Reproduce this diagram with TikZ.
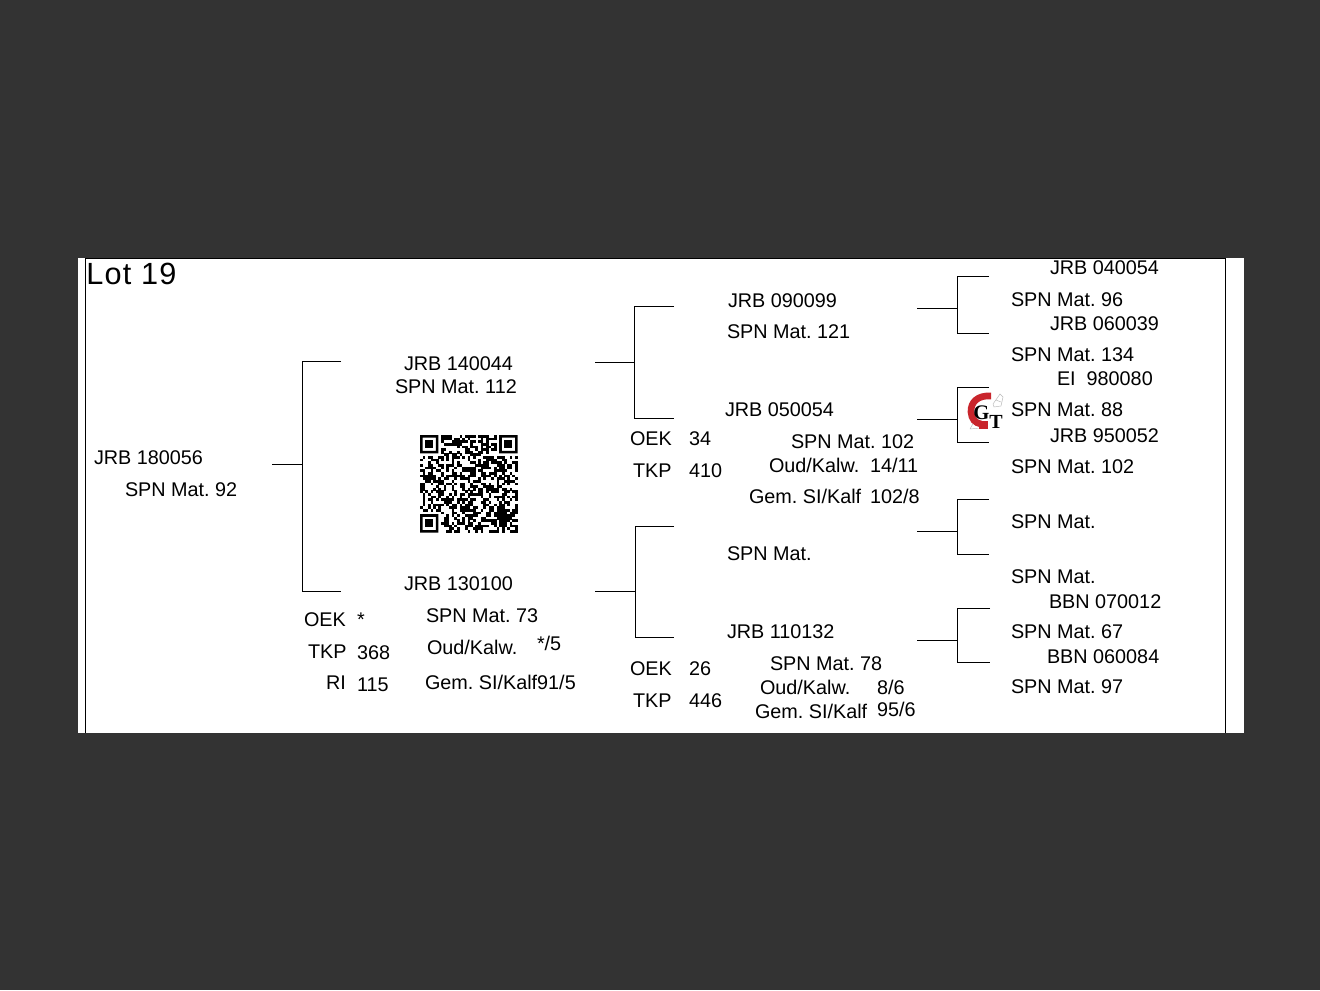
\documentclass[tikz,border=0pt]{standalone}
\usepackage{fontspec}
\setmainfont{Liberation Sans}
\newfontfamily\lotfont[LetterSpace=4]{Liberation Sans}
\newfontfamily\logofont{Liberation Serif}
\definecolor{bgdark}{HTML}{333333}
\definecolor{logored}{HTML}{C9252C}
\frenchspacing
\tikzset{
  lbl/.style={anchor=base west,inner sep=0pt,outer sep=0pt,font=\fontsize{14.85pt}{16pt}\selectfont,text=black},
  conn/.style={draw=black,line width=0.75pt},
  frameline/.style={draw=black,line width=0.9pt},
}
\newcommand{\lb}[4]{\node[lbl] (#1) at (#2,#3+7) {#4};}
% bracket: name, stem-start x, stem y, spine x, top y, bottom y, end x
\newcommand{\bracket}[7]{%
  \coordinate (#1s) at (#2,#3);
  \coordinate (#1m) at (#4,#3);
  \coordinate (#1a) at (#4,#5);
  \coordinate (#1b) at (#4,#6);
  \coordinate (#1c) at (#7,#5);
  \coordinate (#1d) at (#7,#6);
  \draw[conn] (#1s) -- (#1m);
  \draw[conn] (#1c) -- (#1a) -- (#1b) -- (#1d);
}
\begin{document}
\begin{tikzpicture}[x=0.75pt,y=-0.75pt]
\useasboundingbox (0,0) rectangle (1320,990);
\fill[bgdark] (0,0) rectangle (1320,990);
\fill[white] (78,258) rectangle (1244,733);
\coordinate (fa) at (85.5,733);
\coordinate (fb) at (85.5,258.5);
\coordinate (fc) at (1225.5,258.5);
\coordinate (fd) at (1225.5,733);
\draw[frameline] (fa) -- (fb) -- (fc) -- (fd);

\bracket{b1}{272}{464.5}{302.5}{361.5}{591.5}{341}
\bracket{b2}{595}{362.5}{634.5}{306.5}{418.5}{674}
\bracket{b3}{595}{591.5}{635.5}{526.5}{637.5}{674}
\bracket{b4}{917}{308.5}{957.5}{276.5}{333.5}{989}
\bracket{b5}{917}{419.5}{957.5}{387.5}{442.5}{989}
\bracket{b6}{917}{531.5}{957.5}{499.5}{554.5}{989}
\bracket{b7}{917}{640.5}{957.5}{608.5}{662.5}{990}

\node[anchor=base west,inner sep=0pt,font=\lotfont\fontsize{23pt}{25pt}\selectfont] (lot) at (86,284) {Lot 19};

\lb{a1}{94}{457}{JRB 180056}
\lb{a2}{125}{489}{SPN Mat. 92}
\lb{c1}{404}{363}{JRB 140044}
\lb{c2}{395}{386}{SPN Mat. 112}
\lb{c3}{404}{583}{JRB 130100}
\lb{c4}{304}{619}{OEK}
\lb{c5}{357}{619}{*}
\lb{c6}{308}{651}{TKP}
\lb{c7}{357}{652}{368}
\lb{c8}{326}{682}{RI}
\lb{c9}{357}{684}{115}
\lb{c10}{426}{615}{SPN Mat. 73}
\lb{c11}{427}{647}{Oud/Kalw.}
\lb{c12}{537}{643}{*/5}
\lb{c13}{425}{682}{Gem. SI/Kalf91/5}
\lb{d1}{728}{300}{JRB 090099}
\lb{d2}{727}{331}{SPN Mat. 121}
\lb{d3}{725}{409}{JRB 050054}
\lb{d4}{630}{438}{OEK}
\lb{d5}{689}{438}{34}
\lb{d6}{633}{470}{TKP}
\lb{d7}{689}{470}{410}
\lb{d8}{791}{441}{SPN Mat. 102}
\lb{d9}{769}{465}{Oud/Kalw.}
\lb{d10}{870}{465}{14/11}
\lb{d11}{749}{496}{Gem. SI/Kalf}
\lb{d12}{870}{496}{102/8}
\lb{d13}{727}{553}{SPN Mat.}
\lb{d14}{727}{631}{JRB 110132}
\lb{d15}{630}{668}{OEK}
\lb{d16}{689}{668}{26}
\lb{d17}{633}{700}{TKP}
\lb{d18}{689}{700}{446}
\lb{d19}{770}{663}{SPN Mat. 78}
\lb{d20}{760}{687}{Oud/Kalw.}
\lb{d21}{877}{687}{8/6}
\lb{d22}{755}{711}{Gem. SI/Kalf}
\lb{d23}{877}{709}{95/6}
\lb{e1}{1050}{267}{JRB 040054}
\lb{e2}{1011}{299}{SPN Mat. 96}
\lb{e3}{1050}{323}{JRB 060039}
\lb{e4}{1011}{354}{SPN Mat. 134}
\lb{e5}{1057}{378}{EI\ \ 980080}
\lb{e6}{1011}{409}{SPN Mat. 88}
\lb{e7}{1050}{435}{JRB 950052}
\lb{e8}{1011}{466}{SPN Mat. 102}
\lb{e9}{1011}{521}{SPN Mat.}
\lb{e10}{1011}{576}{SPN Mat.}
\lb{e11}{1049}{601}{BBN 070012}
\lb{e12}{1011}{631}{SPN Mat. 67}
\lb{e13}{1047}{656}{BBN 060084}
\lb{e14}{1011}{686}{SPN Mat. 97}

% QR code: 37 modules over 420..518
\begin{scope}[shift={(420,435)},x=1.98pt,y=-1.98pt]
  \pgfmathsetseed{1919}
  \foreach \r in {0,...,36}{
    \foreach \c in {0,...,36}{
      \pgfmathsetmacro{\infinder}{((\r<8)&&(\c<8))||((\r<8)&&(\c>28))||((\r>28)&&(\c<8))?1:0}
      \ifdim\infinder pt<0.5pt
        \pgfmathsetmacro{\v}{rnd}
        \ifdim\v pt<0.52pt
          \fill[black] (\c,\r) rectangle +(1.03,1.03);
        \fi
      \fi
    }
  }
  \foreach \ox/\oy in {0/0,30/0,0/30}{
    \fill[black,even odd rule] (\ox,\oy) rectangle +(7,7) (\ox+1,\oy+1) rectangle +(5,5);
    \fill[black] (\ox+2,\oy+2) rectangle +(3,3);
  }
\end{scope}

% GT logo
\fill[white] (967,392) rectangle (1004,431);
\draw[gray!55,line width=0.35pt] (993,404) -- (1000,394) -- (1003,397) -- (1001,406) -- (994,407) -- cycle (996,400) -- (1001,402);
\draw[gray!55,line width=0.35pt] (970,429) -- (975,420) (970,429) -- (980,428);
\draw[logored,line width=5pt] (991,396) .. controls (978,395) and (970.5,402) .. (971,412) .. controls (971.5,419) and (975,423) .. (981,424);
\fill[logored] (979,421) rectangle (988,429);
\node[inner sep=0pt,font=\logofont\bfseries\fontsize{15.5pt}{16pt}\selectfont] (logog) at (981.5,412.5) {G};
\node[inner sep=0pt,font=\logofont\bfseries\fontsize{15pt}{15pt}\selectfont] (logot) at (996,422) {T};
\end{tikzpicture}
\end{document}
